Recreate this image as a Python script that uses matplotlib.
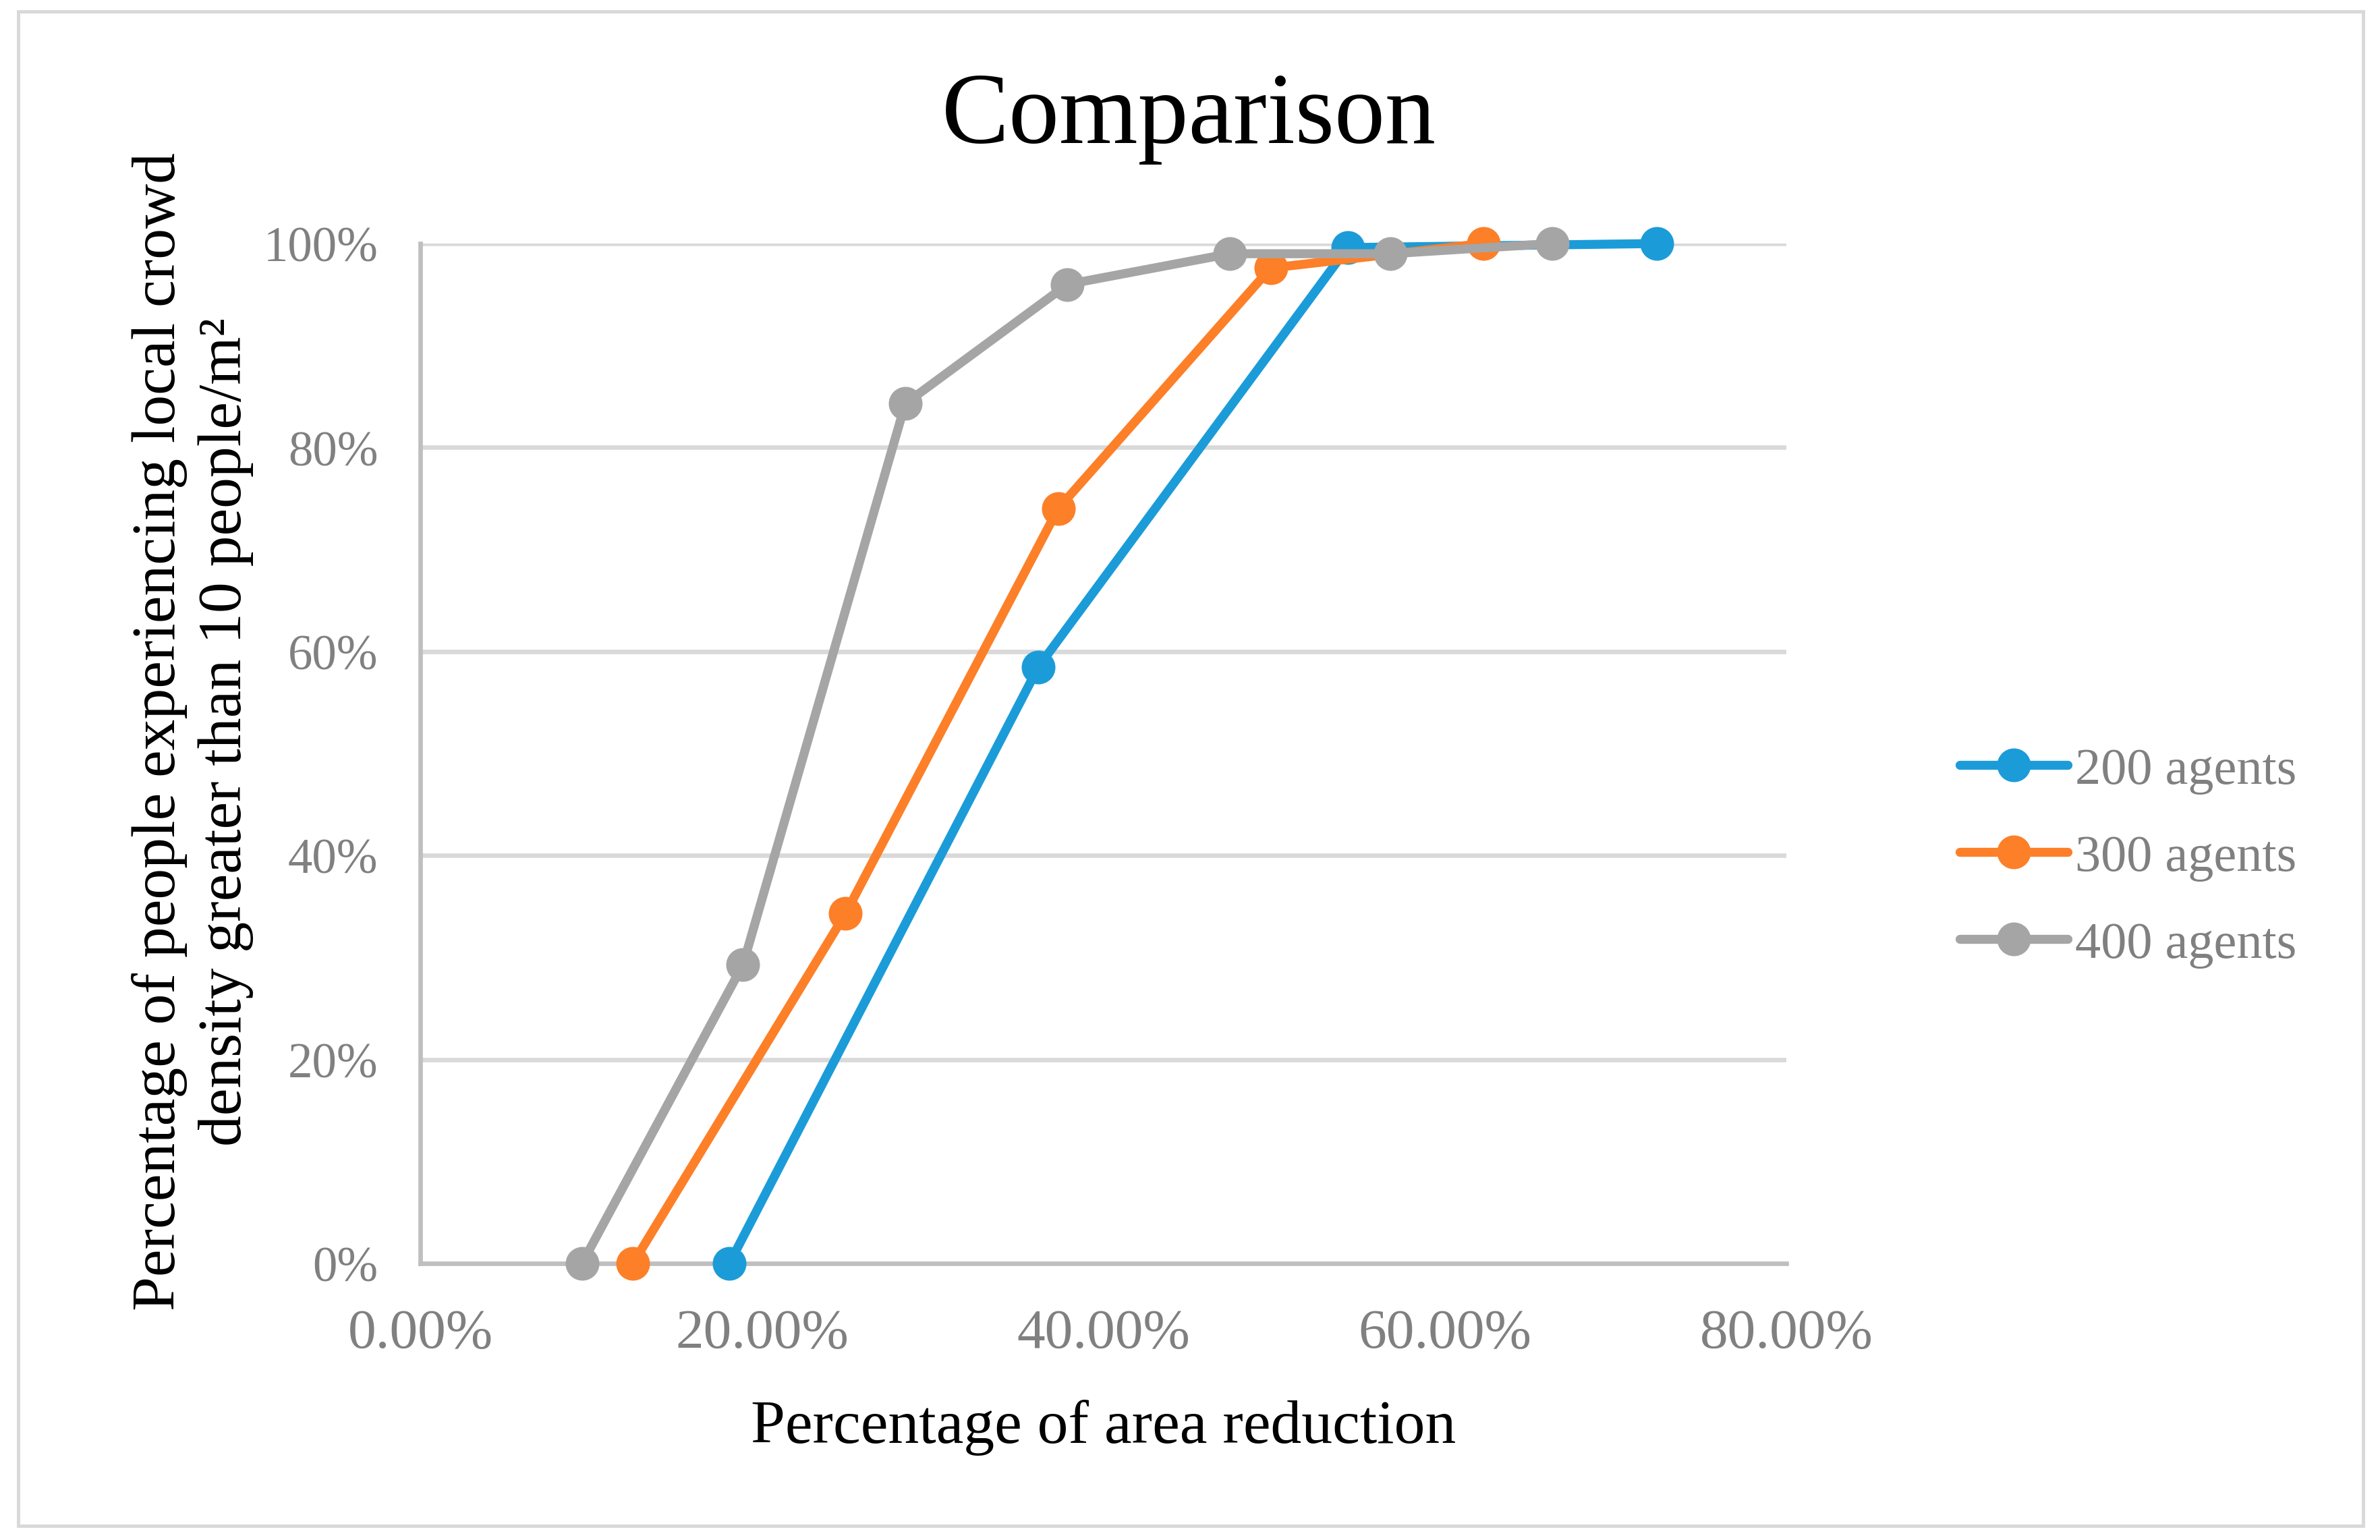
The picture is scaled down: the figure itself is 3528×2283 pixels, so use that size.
import numpy as np
import matplotlib
matplotlib.use("Agg")
import matplotlib.pyplot as plt
from matplotlib.ticker import FuncFormatter
from matplotlib.patches import Rectangle

# data (area reduction %, people % above density threshold)
x200 = [18.1, 36.2, 54.3, 72.4]
y200 = [0.0, 58.5, 99.6, 100.0]
x300 = [12.45, 24.9, 37.35, 49.8, 62.25]
y300 = [0.0, 34.3, 74.0, 97.6, 100.0]
x400 = [9.47, 18.9, 28.4, 37.9, 47.4, 56.8, 66.3]
y400 = [0.0, 29.3, 84.3, 96.0, 99.0, 99.0, 100.0]
labels = ["200 agents", "300 agents", "400 agents"]
colors = ["#1b9cd8", "#fd7f28", "#a5a5a5"]

plt.rcParams['font.family'] = ['Liberation Serif', 'DejaVu Serif']

fig = plt.figure(figsize=(11.76, 7.6133), dpi=300)
ax = fig.add_axes([0.1766, 0.1795, 0.574, 0.662])

for xs, ys, lab, c in zip([x200, x300, x400], [y200, y300, y400], labels, colors):
    ax.plot(xs, ys, color=c, lw=3.2, marker='o', ms=11, label=lab,
            solid_capstyle='round', clip_on=False, zorder=3)

ax.set_xlim(0, 80)
ax.set_ylim(0, 100)
ax.set_xticks([0, 20, 40, 60, 80])
ax.set_yticks([0, 20, 40, 60, 80, 100])
ax.xaxis.set_major_formatter(FuncFormatter(lambda v, p: "%.2f%%" % v))
ax.yaxis.set_major_formatter(FuncFormatter(lambda v, p: "%d%%" % v))
ax.tick_params(length=0, labelcolor='#808080')
ax.tick_params(axis='x', pad=16, labelsize=20)
ax.tick_params(axis='y', pad=15, labelsize=17.5)
ax.grid(axis='y', color='#d9d9d9', lw=1.6)
ax.set_axisbelow(True)
for s in ['top', 'right']:
    ax.spines[s].set_visible(False)
for s in ['left', 'bottom']:
    ax.spines[s].set_color('#bfbfbf')
    ax.spines[s].set_linewidth(1.6)

ax.set_xlabel("Percentage of area reduction", fontsize=22, labelpad=14)
fig.text(0.081, 0.525,
         "Percentage of people experiencing local crowd\ndensity greater than 10 people/m\u00b2",
         rotation=90, ha='center', va='center', fontsize=22, linespacing=1.25)
fig.text(0.4994, 0.923, "Comparison", ha='center', va='center', fontsize=36)

leg = ax.legend(loc='center left', bbox_to_anchor=(0.8125, 0.443), bbox_transform=fig.transFigure,
                frameon=False, fontsize=18.3, handlelength=2.1, handletextpad=0.15,
                labelspacing=0.78, borderpad=0)
for t in leg.get_texts():
    t.set_color('#808080')

fig.patches.append(Rectangle((27 / 3528, 1 - 2263 / 2284), (3503 - 27) / 3528, (2263 - 18) / 2284,
                             transform=fig.transFigure, fill=False, edgecolor='#d9d9d9', lw=1.2))

fig.savefig("out.png", dpi=300)
